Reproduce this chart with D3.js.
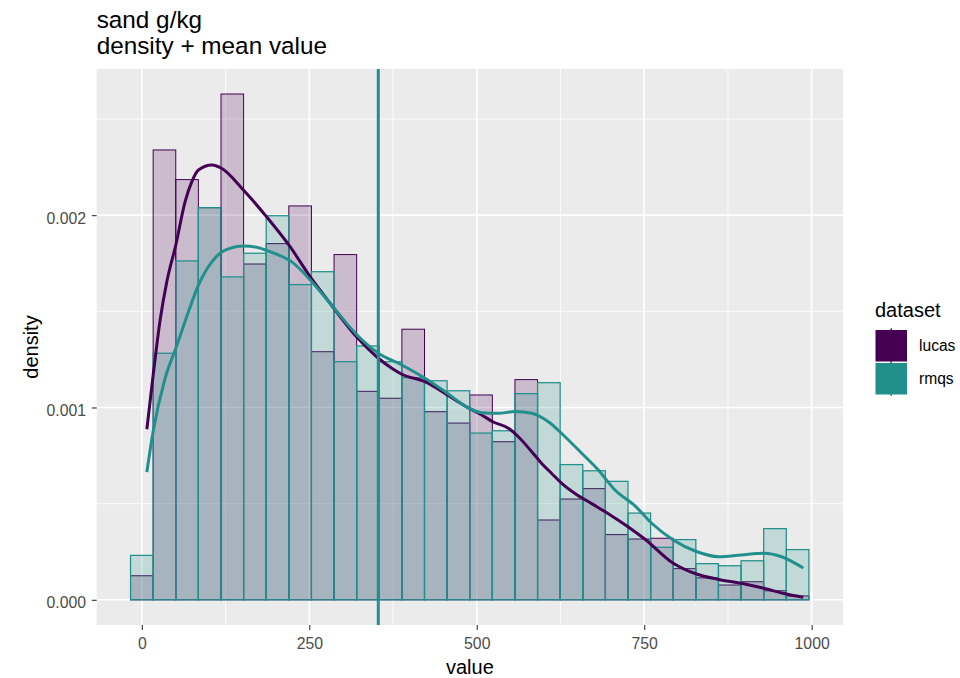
<!DOCTYPE html>
<html>
<head>
<meta charset="utf-8">
<script src="https://cdn.jsdelivr.net/npm/d3@7"></script>
<style>
  html, body { margin: 0; padding: 0; background: #ffffff; }
  svg { display: block; }
  text { font-family: "Liberation Sans", Arial, sans-serif; }
</style>
</head>
<body>
<div id="chart"></div>
<script>
// ---- data ----------------------------------------------------------
const seriesNames = ["lucas", "rmqs"];
const seriesColors = ["#440154", "#21908C"];

// histogram bin centres (g/kg) and bin width
const binWidth = 33.76;
const binMids = [0, 33.76, 67.52, 101.28, 135.03, 168.79, 202.55, 236.31, 270.07, 303.83,
  337.59, 371.34, 405.10, 438.86, 472.62, 506.38, 540.14, 573.90, 607.66, 641.41,
  675.17, 708.93, 742.69, 776.45, 810.21, 843.97, 877.72, 911.48, 945.24, 979.00];

// histogram densities per bin
const lucasHist = [0.000125, 0.002339, 0.002185, 0.002039, 0.002630, 0.001746, 0.001852, 0.002048, 0.001290, 0.001795,
  0.001084, 0.001048, 0.001407, 0.000978, 0.000919, 0.001065, 0.000822, 0.001145, 0.000415, 0.000524,
  0.000578, 0.000339, 0.000316, 0.000320, 0.000162, 0.000114, 0.000077, 0.000094, 0.000047, 0.000020];
const rmqsHist = [0.000231, 0.001282, 0.001762, 0.002039, 0.001679, 0.001802, 0.001997, 0.001639, 0.001706, 0.001238,
  0.001320, 0.001238, 0.001155, 0.001139, 0.001087, 0.000867, 0.000879, 0.001072, 0.001129, 0.000703,
  0.000671, 0.000616, 0.000451, 0.000273, 0.000313, 0.000188, 0.000177, 0.000203, 0.000370, 0.000261];

// kernel density estimates (x in g/kg, y in density x 1e-3)
const lucasDensX = [7.5, 16.9, 27.3, 37.8, 50.7, 64.6, 74.6, 84.5, 104.5, 118.4, 151.6, 186.6, 221.3, 251.2, 281,
  320.9, 353.1, 373.1, 388.1, 422.8, 456.1, 482.5, 507.5, 523.9, 547.2, 562.1, 582.1, 597, 611.9, 626.9,
  646.7, 671.6, 696.4, 726.3, 751.2, 793.4, 827.8, 861.2, 894.5, 928.4, 962.1, 987.5];
const lucasDensY = [0.887, 1.169, 1.455, 1.663, 1.845, 2.070, 2.174, 2.235, 2.261, 2.245, 2.131, 1.990, 1.836, 1.680, 1.542,
  1.366, 1.256, 1.204, 1.173, 1.134, 1.065, 1.008, 0.961, 0.926, 0.892, 0.848, 0.770, 0.709, 0.657, 0.606,
  0.553, 0.500, 0.448, 0.379, 0.315, 0.190, 0.134, 0.106, 0.086, 0.060, 0.030, 0.013];
const rmqsDensX = [7.5, 16.9, 34.8, 50.7, 69.6, 84.5, 104.5, 124.3, 152.7, 174, 198.9, 223.9, 253.7, 287, 321.3,
  353.1, 388.1, 422.8, 456.1, 482.5, 507.5, 532.2, 557.2, 582.1, 606.9, 631.8, 656.7, 681.5, 706.4, 736.3,
  761.2, 793.4, 827.8, 861.2, 894.5, 928.4, 955.2, 987.5];
const rmqsDensY = [0.664, 0.876, 1.153, 1.308, 1.498, 1.636, 1.757, 1.818, 1.840, 1.831, 1.800, 1.757, 1.654, 1.516, 1.377,
  1.282, 1.221, 1.152, 1.074, 1.008, 0.973, 0.970, 0.979, 0.970, 0.926, 0.848, 0.762, 0.675, 0.571, 0.488,
  0.398, 0.311, 0.251, 0.224, 0.233, 0.242, 0.224, 0.165];

// mean sand content
const meanValue = 353;

// axis ticks
const xTicks = [0, 250, 500, 750, 1000];
const xTickLabels = ["0", "250", "500", "750", "1000"];
const xMinor = [125, 375, 625, 875];
const yTicks = [0, 0.001, 0.002];
const yTickLabels = ["0.000", "0.001", "0.002"];
const yMinor = [0.0005, 0.0015, 0.0025];

// ---- layout ---------------------------------------------------------
const W = 960, H = 678;
const P = { left: 96.7, right: 843, top: 69, bottom: 625 };

const svg = d3.select("#chart").append("svg")
  .attr("width", W).attr("height", H)
  .attr("viewBox", `0 0 ${W} ${H}`);

const x = d3.scaleLinear().domain([-67.4, 1046.8]).range([P.left, P.right]);
const y = d3.scaleLinear().domain([-0.000131, 0.00276]).range([P.bottom, P.top]);

// panel background
svg.append("rect")
  .attr("x", P.left).attr("y", P.top)
  .attr("width", P.right - P.left).attr("height", P.bottom - P.top)
  .attr("fill", "#EBEBEB");

const grid = svg.append("g");
grid.selectAll(".xminor").data(xMinor).join("line")
  .attr("x1", d => x(d)).attr("x2", d => x(d))
  .attr("y1", P.top).attr("y2", P.bottom)
  .attr("stroke", "#ffffff").attr("stroke-width", 0.8);
grid.selectAll(".yminor").data(yMinor).join("line")
  .attr("x1", P.left).attr("x2", P.right)
  .attr("y1", d => y(d)).attr("y2", d => y(d))
  .attr("stroke", "#ffffff").attr("stroke-width", 0.8);
grid.selectAll(".xmajor").data(xTicks).join("line")
  .attr("x1", d => x(d)).attr("x2", d => x(d))
  .attr("y1", P.top).attr("y2", P.bottom)
  .attr("stroke", "#ffffff").attr("stroke-width", 1.6);
grid.selectAll(".ymajor").data(yTicks).join("line")
  .attr("x1", P.left).attr("x2", P.right)
  .attr("y1", d => y(d)).attr("y2", d => y(d))
  .attr("stroke", "#ffffff").attr("stroke-width", 1.6);

// ---- histograms (lucas underneath, rmqs on top) ---------------------
const plot = svg.append("g");
[lucasHist, rmqsHist].forEach((vals, si) => {
  plot.append("g").selectAll("rect").data(vals).join("rect")
    .attr("x", (d, i) => x(binMids[i] - binWidth / 2))
    .attr("width", (d, i) => x(binMids[i] + binWidth / 2) - x(binMids[i] - binWidth / 2))
    .attr("y", d => y(d))
    .attr("height", d => y(0) - y(d))
    .attr("fill", seriesColors[si]).attr("fill-opacity", 0.2)
    .attr("stroke", seriesColors[si]).attr("stroke-width", si === 1 ? 1.25 : 1);
});

// ---- density curves -------------------------------------------------
const line = d3.line()
  .x(d => x(d[0]))
  .y(d => y(d[1] / 1000))
  .curve(d3.curveMonotoneX);
[[lucasDensX, lucasDensY], [rmqsDensX, rmqsDensY]].forEach(([xs, ys], si) => {
  plot.append("path")
    .datum(xs.map((v, i) => [v, ys[i]]))
    .attr("d", line)
    .attr("fill", "none")
    .attr("stroke", seriesColors[si])
    .attr("stroke-width", 3)
    .attr("stroke-linejoin", "round")
    .attr("stroke-linecap", "butt");
});

// mean line
plot.append("line")
  .attr("x1", x(meanValue)).attr("x2", x(meanValue))
  .attr("y1", P.top).attr("y2", P.bottom)
  .attr("stroke", seriesColors[1]).attr("stroke-width", 3);

// ---- axes -----------------------------------------------------------
const xAxis = svg.append("g")
  .attr("transform", `translate(0,${P.bottom})`)
  .call(d3.axisBottom(x).tickValues(xTicks).tickFormat((d, i) => xTickLabels[i])
    .tickSize(4.9).tickPadding(8));
xAxis.select(".domain").remove();
xAxis.selectAll(".tick line").attr("stroke", "#333333").attr("stroke-width", 1.1);
xAxis.selectAll(".tick text").attr("fill", "#4D4D4D").attr("font-size", 15.8)
  .attr("font-family", "'Liberation Sans', Arial, sans-serif");

const yAxis = svg.append("g")
  .attr("transform", `translate(${P.left},0)`)
  .call(d3.axisLeft(y).tickValues(yTicks).tickFormat((d, i) => yTickLabels[i])
    .tickSize(4.9).tickPadding(5.8));
yAxis.select(".domain").remove();
yAxis.selectAll(".tick line").attr("stroke", "#333333").attr("stroke-width", 1.1);
yAxis.selectAll(".tick text").attr("fill", "#4D4D4D").attr("font-size", 15.8)
  .attr("dy", "0.5em")
  .attr("font-family", "'Liberation Sans', Arial, sans-serif");

// axis titles
svg.append("text")
  .attr("x", (P.left + P.right) / 2).attr("y", 673.5)
  .attr("text-anchor", "middle").attr("font-size", 20).attr("fill", "#000")
  .text("value");
svg.append("text")
  .attr("transform", `translate(37.5,${(P.top + P.bottom) / 2}) rotate(-90)`)
  .attr("text-anchor", "middle").attr("font-size", 20).attr("fill", "#000")
  .text("density");

// plot title
svg.append("text").attr("x", P.left).attr("y", 28.3)
  .attr("font-size", 24.3).attr("fill", "#000").text("sand g/kg");
svg.append("text").attr("x", P.left).attr("y", 54)
  .attr("font-size", 24.3).attr("fill", "#000").text("density + mean value");

// ---- legend ---------------------------------------------------------
const legend = svg.append("g");
legend.append("text").attr("x", 875).attr("y", 316.7)
  .attr("font-size", 20).attr("fill", "#000").text("dataset");
const keyX = 875.5, keyW = 31.5, keyY0 = 330, keyStep = 33;
seriesNames.forEach((name, i) => {
  const ky = keyY0 + i * keyStep;
  legend.append("line")
    .attr("x1", keyX + keyW / 2).attr("x2", keyX + keyW / 2)
    .attr("y1", ky - 1.5).attr("y2", ky + keyW + 1.5)
    .attr("stroke", seriesColors[i]).attr("stroke-width", 1.5);
  legend.append("rect")
    .attr("x", keyX).attr("y", ky).attr("width", keyW).attr("height", keyW)
    .attr("fill", seriesColors[i]);
  legend.append("text")
    .attr("x", 919).attr("y", ky + keyW / 2 + 5.5)
    .attr("font-size", 15.6).attr("fill", "#000").text(name);
});
</script>
</body>
</html>
